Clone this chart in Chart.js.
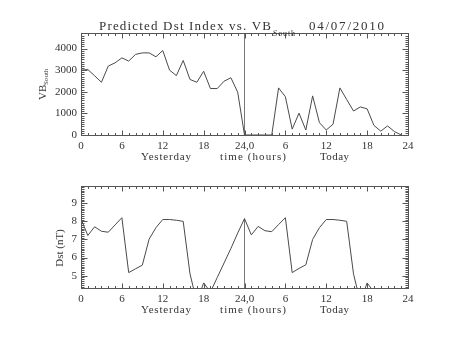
<!DOCTYPE html>
<html>
<head>
<meta charset="utf-8">
<script src="https://cdn.jsdelivr.net/npm/chart.js@4"></script>
<style>
  html, body { margin: 0; padding: 0; background: #fff; }
  #wrap { position: relative; width: 453px; height: 340px; }
  canvas { position: absolute; left: 0; }
  #top { top: 0; }
  #bottom { top: 170px; }
</style>
</head>
<body>
<div id="wrap">
  <canvas id="top" width="453" height="170"></canvas>
  <canvas id="bottom" width="453" height="170"></canvas>
</div>
<script>
// hours since start of yesterday (0-24 yesterday, 24-48 today)
const hours = [0,1,2,3,4,5,6,7,8,9,10,11,12,13,14,15,16,17,18,19,20,21,22,23,
               24,25,26,27,28,29,30,31,32,33,34,35,36,37,38,39,40,41,42,43,44,45,46,47];
const vbSouth = [3000,3030,2740,2440,3190,3340,3570,3420,3730,3800,3800,3620,
                 3910,3000,2750,3450,2570,2440,2950,2150,2150,2490,2650,1980,
                 0,0,0,0,0,2180,1770,270,1010,230,1810,570,
                 230,500,2180,1640,1110,1300,1210,440,180,420,160,0];

const dstHours = [0,1,2,3,4,5,6,7,8,9,10,11,12,13,14,15,16,17,18,19,20,21,
                  22,23,24,25,26,27,28,29,30,31,32,33,34,35,36,37,38,39,40,41,42,43];
const dst = [8.13,7.22,7.7,7.45,7.4,7.8,8.2,5.17,5.38,5.58,7.02,7.65,8.1,8.1,
             8.06,8.0,5.1,3.55,4.6,4.1,4.9,5.7,6.5,7.35,8.15,7.25,7.72,7.48,
             7.43,7.82,8.2,5.17,5.4,5.6,7.0,7.65,8.1,8.1,8.06,8.0,5.1,3.55,4.6,4.1];

const dayBreak = 24;
const xTickValues = [0,6,12,18,24,30,36,42,48];
const xTickLabels = ['0','6','12','18','24,0','6','12','18','24'];
const vbTicks = [0,1000,2000,3000,4000];
const dstTicks = [5,6,7,8,9];
const vbRange = [0, 4720];
const dstRange = [4.32, 9.95];

const ink = '#333';
const frameInk = '#555';
const lineInk = '#4a4a4a';
const serif = '"Liberation Serif", "DejaVu Serif", serif';

// draw text stretched to span a given width
function fitText(ctx, text, x, y, width) {
  ctx.letterSpacing = '0px';
  const w = ctx.measureText(text).width;
  if (width && text.length > 1) {
    ctx.letterSpacing = ((width - w) / (text.length - 1)) + 'px';
  }
  ctx.fillText(text, x, y);
  ctx.letterSpacing = '0px';
}

// IDL-ish frame: box, inward ticks on all four sides, extra texts
const idlFrame = {
  id: 'idlFrame',
  afterDraw(chart, args, o) {
    const ctx = chart.ctx, a = chart.chartArea;
    const sx = chart.scales.x, sy = chart.scales.y;
    const L = Math.round(a.left) + 0.5, R = Math.round(a.right) + 0.5;
    const T = Math.round(a.top) + 0.5, B = Math.round(a.bottom) + 0.5;
    ctx.save();
    ctx.strokeStyle = frameInk;
    ctx.lineWidth = 1;
    ctx.strokeRect(L, T, R - L, B - T);
    ctx.beginPath();
    const nx = Math.round((sx.max - sx.min) / o.xMinor);
    for (let k = 0; k <= nx; k++) {
      const v = sx.min + k * o.xMinor;
      const px = Math.round(sx.getPixelForValue(v)) + 0.5;
      const len = (k % Math.round(o.xMajor / o.xMinor) === 0) ? 5 : 2.5;
      ctx.moveTo(px, B); ctx.lineTo(px, B - len);
      ctx.moveTo(px, T); ctx.lineTo(px, T + len);
    }
    const k0 = Math.ceil(sy.min / o.yMinor - 1e-6);
    const per = Math.round(o.yMajor / o.yMinor);
    for (let k = k0; k * o.yMinor <= sy.max + 1e-9; k++) {
      const py = Math.round(sy.getPixelForValue(k * o.yMinor)) + 0.5;
      const len = (k % per === 0) ? 6 : 3;
      ctx.moveTo(L, py); ctx.lineTo(L + len, py);
      ctx.moveTo(R, py); ctx.lineTo(R - len, py);
    }
    ctx.stroke();

    ctx.fillStyle = ink;
    ctx.textBaseline = 'alphabetic';
    (o.texts || []).forEach(t => {
      ctx.save();
      ctx.font = t.size + 'px ' + serif;
      ctx.textAlign = t.align || 'left';
      ctx.translate(t.x, t.y);
      if (t.rotate) ctx.rotate(-Math.PI / 2);
      fitText(ctx, t.text, 0, 0, t.width);
      ctx.restore();
    });
    ctx.restore();
  }
};

function xScale(height) {
  return {
    type: 'linear', min: 0, max: 48,
    afterBuildTicks: s => { s.ticks = xTickValues.map(v => ({ value: v })); },
    afterFit: s => { s.height = height; },
    ticks: {
      callback: (v, i) => xTickLabels[i],
      font: { family: serif, size: 11 }, color: ink,
      padding: 5, maxRotation: 0, autoSkip: false
    },
    grid: { display: false, drawTicks: false },
    border: { display: false }
  };
}

function yScale(range, tickList) {
  return {
    type: 'linear', min: range[0], max: range[1],
    afterBuildTicks: s => { s.ticks = tickList.map(v => ({ value: v })); },
    afterFit: s => { s.width = 81; },
    ticks: {
      callback: v => String(v),
      font: { family: serif, size: 11 }, color: ink, padding: 4
    },
    grid: { display: false, drawTicks: false },
    border: { display: false }
  };
}

function line(points, color) {
  return {
    data: points, borderColor: color || lineInk, borderWidth: 1,
    pointRadius: 0, tension: 0, fill: false
  };
}

const xWords = ['Yesterday', 'time (hours)', 'Today'];

// upper panel: VB south
new Chart(document.getElementById('top'), {
  type: 'line',
  data: {
    datasets: [
      line(hours.map((h, i) => ({ x: h, y: vbSouth[i] }))),
      line([{ x: dayBreak, y: vbRange[0] }, { x: dayBreak, y: vbRange[1] }], '#777')
    ]
  },
  options: {
    responsive: false, animation: false, devicePixelRatio: 1,
    layout: { padding: { left: 0, right: 45, top: 33, bottom: 0 } },
    plugins: {
      legend: { display: false }, tooltip: { enabled: false },
      idlFrame: {
        xMajor: 6, xMinor: 1, yMajor: 1000, yMinor: 100,
        texts: [
          { text: 'Predicted Dst Index vs. VB', x: 99, y: 29.5, size: 13, width: 172 },
          { text: 'South', x: 273, y: 35.5, size: 8, width: 22 },
          { text: '04/07/2010', x: 309, y: 29.5, size: 13, width: 75 },
          { text: xWords[0], x: 141, y: 160, size: 11, width: 50 },
          { text: xWords[1], x: 220, y: 160, size: 11, width: 66 },
          { text: xWords[2], x: 320, y: 160, size: 11, width: 29 },
          { text: 'VB', x: 45.5, y: 100, size: 11, rotate: true },
          { text: 'South', x: 48, y: 85, size: 7, rotate: true }
        ]
      }
    },
    scales: { x: xScale(35), y: yScale(vbRange, vbTicks) }
  },
  plugins: [idlFrame]
});

// lower panel: Dst
new Chart(document.getElementById('bottom'), {
  type: 'line',
  data: {
    datasets: [
      line(dstHours.map((h, i) => ({ x: h, y: dst[i] }))),
      line([{ x: dayBreak, y: dstRange[0] }, { x: dayBreak, y: dst[dstHours.indexOf(dayBreak)] }], '#777')
    ]
  },
  options: {
    responsive: false, animation: false, devicePixelRatio: 1,
    layout: { padding: { left: 0, right: 45, top: 16, bottom: 0 } },
    plugins: {
      legend: { display: false }, tooltip: { enabled: false },
      idlFrame: {
        xMajor: 6, xMinor: 1, yMajor: 1, yMinor: 0.1,
        texts: [
          { text: xWords[0], x: 141, y: 142.5, size: 11, width: 50 },
          { text: xWords[1], x: 220, y: 142.5, size: 11, width: 66 },
          { text: xWords[2], x: 320, y: 142.5, size: 11, width: 29 },
          { text: 'Dst (nT)', x: 63, y: 78, size: 11, rotate: true, align: 'center' }
        ]
      }
    },
    scales: { x: xScale(52), y: yScale(dstRange, dstTicks) }
  },
  plugins: [idlFrame]
});
</script>
</body>
</html>
